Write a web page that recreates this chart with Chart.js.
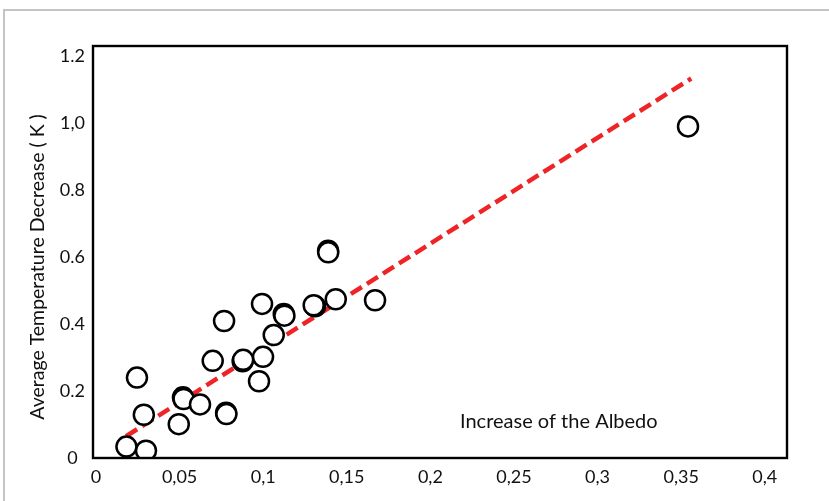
<!DOCTYPE html>
<html>
<head>
<meta charset="utf-8">
<script src="https://cdn.jsdelivr.net/npm/chart.js@4.4.1/dist/chart.umd.min.js"></script>
<style>
  html, body { margin: 0; padding: 0; background: #fff; }
  #wrap { position: relative; width: 829px; height: 501px; overflow: hidden; }
  #edge { position: absolute; left: 3px; top: 9px; width: 900px; height: 600px;
          border-top: 2px solid #c4c4c4; border-left: 2px solid #c4c4c4; }
  canvas { position: absolute; left: 0; top: 0; }
</style>
</head>
<body>
<div id="wrap">
  <div id="edge"></div>
  <canvas id="albedo" width="829" height="501"></canvas>
</div>
<script>
// albedo increase vs. mean temperature drop (some points overlap)
const albedoIncrease = [0.0182, 0.0299, 0.0245, 0.0286, 0.0495, 0.0520, 0.0524, 0.0622,
  0.0778, 0.0780, 0.0698, 0.0766, 0.0877, 0.0880, 0.0975, 0.0999, 0.0993, 0.1063,
  0.1123, 0.1127, 0.1310, 0.1302, 0.1434, 0.1388, 0.1389, 0.1669, 0.3541];
const tempDecrease = [0.034, 0.022, 0.240, 0.129, 0.101, 0.181, 0.176, 0.160,
  0.135, 0.131, 0.290, 0.409, 0.289, 0.293, 0.229, 0.302, 0.460, 0.367,
  0.430, 0.425, 0.453, 0.456, 0.474, 0.619, 0.614, 0.471, 0.990];

// trend line end points
const fitX = [0.018, 0.356];
const fitY = [0.065, 1.133];

const xTicks = [0, 0.05, 0.1, 0.15, 0.2, 0.25, 0.3, 0.35, 0.4];
const xTickLabels = ['0', '0,05', '0,1', '0,15', '0,2', '0,25', '0,3', '0,35', '0,4'];
const yTicks = [0, 0.2, 0.4, 0.6, 0.8, 1.0, 1.2];
const yTickLabels = ['0', '0.2', '0.4', '0.6', '0.8', '1,0', '1.2'];

const xTitle = 'Increase of the Albedo';
const yTitle = 'Average Temperature Decrease ( K )';

const points = albedoIncrease.map((x, i) => ({ x: x, y: tempDecrease[i] }));
const fit = fitX.map((x, i) => ({ x: x, y: fitY[i] }));

const fontFamily = 'Lato, "Open Sans", sans-serif';

// black box round the plot + the two axis captions
const boxAndTitles = {
  id: 'boxAndTitles',
  afterDatasetsDraw(chart) {
    const a = chart.chartArea;
    const ctx = chart.ctx;
    ctx.save();
    ctx.strokeStyle = '#000';
    ctx.lineWidth = 2.4;
    ctx.strokeRect(a.left, a.top, a.right - a.left, a.bottom - a.top);

    ctx.fillStyle = '#111';
    ctx.font = '20px ' + fontFamily;
    ctx.textBaseline = 'middle';
    ctx.textAlign = 'left';
    ctx.fillText(xTitle, a.left + 367, a.bottom - 36);

    ctx.font = '19.5px ' + fontFamily;
    ctx.translate(38, (a.top + a.bottom) / 2 + 15);
    ctx.rotate(-Math.PI / 2);
    ctx.textAlign = 'center';
    ctx.fillText(yTitle, 0, 0);
    ctx.restore();
  }
};

new Chart(document.getElementById('albedo'), {
  type: 'scatter',
  data: {
    datasets: [
      {
        data: points,
        pointRadius: 10,
        pointHoverRadius: 10,
        pointBorderWidth: 2.5,
        borderColor: '#000',
        backgroundColor: '#fff',
        order: 0,
        clip: 0
      },
      {
        data: fit,
        showLine: true,
        borderColor: '#ee2427',
        borderWidth: 4.5,
        borderDash: [13, 6],
        pointRadius: 0,
        order: 1,
        clip: 0
      }
    ]
  },
  options: {
    responsive: false,
    animation: false,
    devicePixelRatio: 1,
    layout: { padding: { top: 46, right: 42, left: 0, bottom: 0 } },
    plugins: { legend: { display: false }, tooltip: { enabled: false } },
    scales: {
      x: {
        type: 'linear',
        min: -0.0018,
        max: 0.4133,
        grid: { display: false, drawTicks: false },
        border: { display: false },
        afterBuildTicks: (axis) => { axis.ticks = xTicks.map(v => ({ value: v })); },
        afterFit: (scale) => { scale.height = 43; },
        ticks: {
          callback: (v, i) => xTickLabels[i],
          color: '#111',
          font: { family: fontFamily, size: 18 },
          padding: 8,
          maxRotation: 0,
          autoSkip: false
        }
      },
      y: {
        type: 'linear',
        min: 0,
        max: 1.23,
        grid: { display: false, drawTicks: false },
        border: { display: false },
        afterBuildTicks: (axis) => { axis.ticks = yTicks.map(v => ({ value: v })); },
        afterFit: (scale) => { scale.width = 93; },
        ticks: {
          callback: (v, i) => yTickLabels[i],
          color: '#111',
          font: { family: fontFamily, size: 18 },
          padding: 8,
          crossAlign: 'center',
          autoSkip: false
        }
      }
    }
  },
  plugins: [boxAndTitles]
});
</script>
</body>
</html>
